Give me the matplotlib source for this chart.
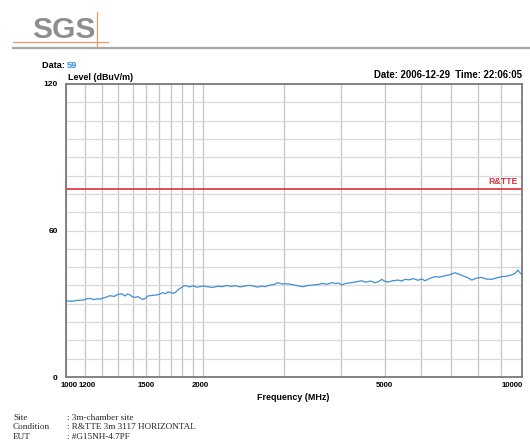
import matplotlib
matplotlib.use("Agg")
import matplotlib.pyplot as plt
from matplotlib.lines import Line2D
from matplotlib.transforms import ScaledTranslation
import numpy as np

# ---- data ----
freq_mhz = [1000, 1030, 1060, 1090, 1110, 1129, 1150, 1170, 1187, 1210,
            1230, 1249, 1275, 1302, 1325, 1347, 1365, 1382, 1400, 1417,
            1440, 1460, 1477, 1495, 1513, 1545, 1581, 1605, 1632, 1655,
            1674, 1695, 1716, 1735, 1749, 1770, 1794, 1815, 1840, 1870,
            1900, 1935, 1967, 2000, 2050, 2101, 2150, 2200, 2251, 2300,
            2350, 2407, 2460, 2510, 2571, 2630, 2680, 2732, 2800, 2860,
            2917, 2980, 3050, 3126, 3200, 3250, 3309, 3400, 3480, 3570,
            3650, 3740, 3825, 3900, 3960, 4023, 4120, 4220, 4330, 4451,
            4550, 4650, 4762, 4850, 4924, 5000, 5083, 5200, 5350, 5450,
            5539, 5650, 5780, 5916, 6020, 6129, 6280, 6447, 6600, 6779,
            6950, 7131, 7300, 7499, 7620, 7757, 7950, 8157, 8350, 8581,
            8800, 9026, 9250, 9493, 9650, 9800, 9900, 10000]
level_dbuv = [31.2, 31.0, 31.4, 31.5, 32.0, 32.2, 31.7, 32.0, 31.9, 32.4,
              32.8, 33.3, 33.0, 33.9, 34.1, 33.2, 34.0, 33.6, 32.8, 32.6,
              32.9, 32.1, 31.8, 32.3, 33.2, 33.4, 33.6, 34.0, 34.5, 34.1,
              34.9, 34.6, 34.3, 34.5, 35.2, 36.0, 36.7, 37.4, 37.3, 36.9,
              37.4, 36.8, 37.0, 37.3, 36.9, 36.7, 37.2, 37.0, 37.5, 37.1,
              37.4, 36.9, 37.2, 37.5, 37.3, 36.8, 37.2, 37.0, 37.6, 37.9,
              38.6, 38.1, 38.2, 37.9, 37.5, 37.2, 37.0, 37.5, 37.7, 37.9,
              38.3, 38.0, 38.6, 38.3, 38.5, 37.7, 38.4, 38.6, 39.0, 39.4,
              38.8, 39.3, 38.6, 39.1, 40.0, 39.2, 38.9, 39.4, 39.7, 39.3,
              40.0, 39.8, 40.3, 39.6, 40.2, 39.4, 40.4, 41.1, 40.9, 41.5,
              41.9, 42.7, 42.0, 41.1, 40.6, 39.7, 40.5, 40.8, 40.1, 40.0,
              40.6, 41.1, 41.3, 41.8, 42.4, 43.8, 42.6, 42.2]
limit_level = 77.2
limit_name = "R&TTE"
x_ticks = [1000, 1200, 1500, 2000, 5000, 10000]
x_tick_labels = ["1000", "1200", "1500", "2000", "5000", "10000"]
x_minor = [1100, 1300, 1400, 1600, 1700, 1800, 1900, 3000, 4000, 6000, 7000, 8000, 9000]
y_ticks = [0, 60, 120]
info_keys = ["Site", "Condition", "EUT"]
info_vals = [": 3m-chamber site", ": R&TTE 3m 3117 HORIZONTAL", ": #G15NH-4.7PF"]

W, H = 530, 446
fig = plt.figure(figsize=(W / 100, H / 100), dpi=100)
fig.patch.set_facecolor("white")

def fx(x):
    return x / W

def fy(y):
    return 1 - y / H

ax = fig.add_axes([fx(66), fy(377), (522 - 66) / W, (377 - 84) / H])
ax.set_xscale("log")
ax.set_xlim(1000, 10000)
ax.set_ylim(0, 120)

bold = dict(family="Liberation Sans", weight="bold")

ax.set_xticks(x_ticks)
ax.set_xticklabels(x_tick_labels, fontsize=5.6, **bold)
ax.set_xticks(x_minor, minor=True)
ax.set_xticklabels([], minor=True)
ax.set_yticks(y_ticks)
ax.set_yticklabels([str(v) for v in y_ticks], fontsize=6.0, **bold)
ax.set_yticks(np.arange(0, 121, 7.5), minor=True)
ax.tick_params(axis="both", which="both", length=0)
ax.tick_params(axis="x", pad=3.5)
ax.tick_params(axis="y", pad=6)

ax.grid(True, which="both", axis="x", color="#c4c4c4", lw=0.9)
ax.grid(True, which="both", axis="y", color="#dadada", lw=0.9)
ax.set_axisbelow(True)

offsets = {"1000": 3.0, "1200": -14.5, "2000": -3.5, "10000": -10}
for lab in ax.get_xticklabels():
    t = lab.get_text()
    if t in offsets:
        lab.set_transform(lab.get_transform() + ScaledTranslation(offsets[t] / 100, 0, fig.dpi_scale_trans))

for s in ax.spines.values():
    s.set_color("#7a7a7a")
    s.set_linewidth(1.3)

ax.axhline(limit_level, color="#e0404a", lw=1.3)
ax.text(0.99, limit_level + 1.0, limit_name, transform=ax.get_yaxis_transform(),
        ha="right", va="bottom", color="#e0303a", fontsize=6.3, **bold)

ax.plot(freq_mhz, level_dbuv, color="#3d8fd6", lw=0.9)

# texts
fig.text(fx(68), fy(77), "Level (dBuV/m)", fontsize=6.4, va="center", ha="left", **bold)
fig.text(fx(42), fy(66), "Data: ", fontsize=6.6, va="center", ha="left", **bold)
fig.text(fx(67), fy(66), "59", fontsize=6.6, va="center", ha="left", color="#2f8ee0", **bold)
fig.text(fx(522), fy(75), "Date: 2006-12-29  Time: 22:06:05", fontsize=6.9,
         va="center", ha="right", **bold)
fig.text(fx(293), fy(398), "Frequency (MHz)", fontsize=6.4, va="center", ha="center", **bold)

for i, (k, v) in enumerate(zip(info_keys, info_vals)):
    yy = 417.5 + i * 9.7
    fig.text(fx(13), fy(yy), k, fontsize=6.6, family="Liberation Serif", va="center", ha="left", color="#222222")
    fig.text(fx(67), fy(yy), v, fontsize=6.6, family="Liberation Serif", va="center", ha="left", color="#222222")

# logo
fig.text(fx(32), fy(30), "SGS", fontsize=21.5, family="Liberation Sans", weight="bold",
         color="#8e8e8e", va="center", ha="left")
fig.add_artist(Line2D([fx(13), fx(530)], [fy(47.7), fy(47.7)], color="#a8a8a8", lw=1.6))
fig.add_artist(Line2D([fx(13), fx(108)], [fy(42), fy(42)], color="#eb9a63", lw=0.9))
fig.add_artist(Line2D([fx(97), fx(97)], [fy(12), fy(47)], color="#eb9a63", lw=0.9))

fig.savefig("out.png", dpi=100, facecolor="white")
